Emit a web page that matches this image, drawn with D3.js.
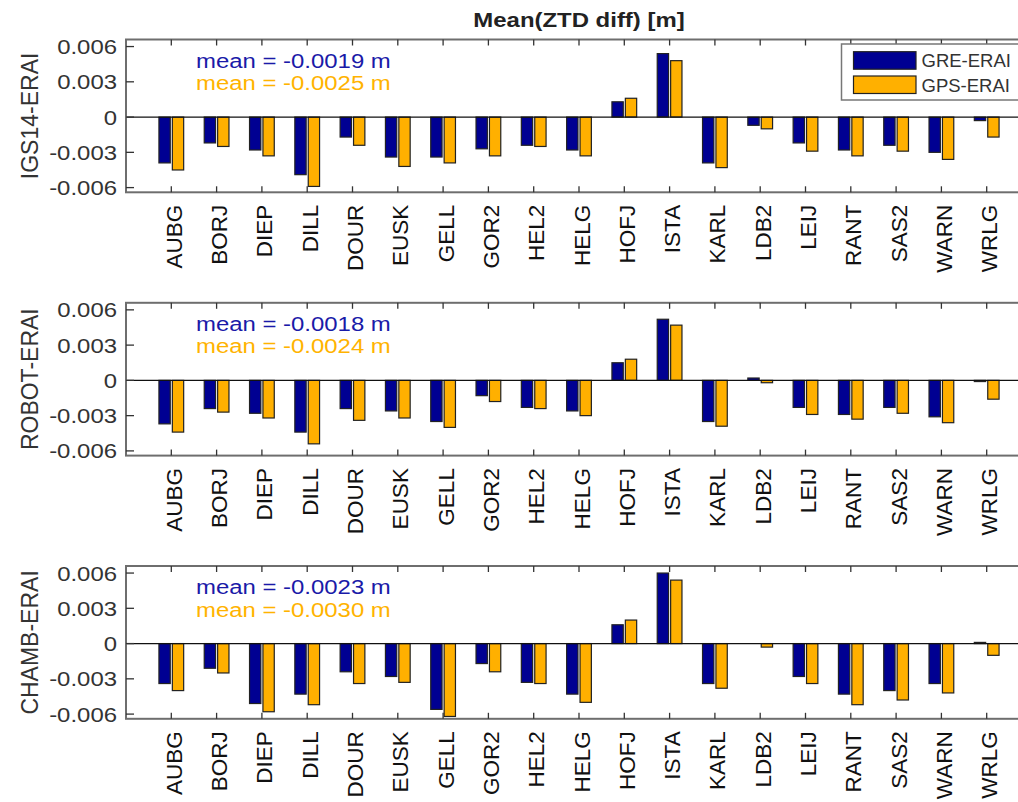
<!DOCTYPE html>
<html><head><meta charset="utf-8">
<script src="https://cdn.jsdelivr.net/npm/d3@7"></script>
<style>body{margin:0;background:#fff}svg{display:block}text{font-family:"Liberation Sans",Arial,sans-serif}</style>
</head><body>
<svg id="c" width="1018" height="802"></svg>
<script>
const stations = ["AUBG","BORJ","DIEP","DILL","DOUR","EUSK","GELL","GOR2","HEL2","HELG","HOFJ","ISTA","KARL","LDB2","LEIJ","RANT","SAS2","WARN","WRLG"];
const seriesNames = ["GRE-ERAI","GPS-ERAI"];
const panelNames = ["IGS14-ERAI","ROBOT-ERAI","CHAMB-ERAI"];
const igsGRE   = [-0.0039,-0.0022,-0.0028,-0.0049,-0.0017,-0.0034,-0.0034,-0.0027,-0.0024,-0.0028,0.0013,0.0054,-0.0039,-0.0007,-0.0022,-0.0028,-0.0024,-0.0030,-0.0003];
const igsGPS   = [-0.0045,-0.0025,-0.0033,-0.0059,-0.0024,-0.0042,-0.0039,-0.0033,-0.0025,-0.0033,0.0016,0.0048,-0.0043,-0.0010,-0.0029,-0.0033,-0.0029,-0.0036,-0.0017];
const robotGRE = [-0.0037,-0.0024,-0.0028,-0.0044,-0.0024,-0.0026,-0.0035,-0.0013,-0.0023,-0.0026,0.0015,0.0052,-0.0035,0.0002,-0.0023,-0.0029,-0.0023,-0.0031,-0.0001];
const robotGPS = [-0.0044,-0.0027,-0.0032,-0.0054,-0.0034,-0.0032,-0.0040,-0.0018,-0.0024,-0.0030,0.0018,0.0047,-0.0039,-0.0002,-0.0029,-0.0033,-0.0028,-0.0036,-0.0016];
const chambGRE = [-0.0034,-0.0021,-0.0051,-0.0043,-0.0024,-0.0028,-0.0056,-0.0017,-0.0033,-0.0043,0.0016,0.0060,-0.0034,0.0000,-0.0028,-0.0043,-0.0040,-0.0034,0.0001];
const chambGPS = [-0.0040,-0.0025,-0.0058,-0.0052,-0.0034,-0.0033,-0.0062,-0.0024,-0.0034,-0.0050,0.0020,0.0054,-0.0038,-0.0003,-0.0034,-0.0052,-0.0048,-0.0042,-0.0010];
const meanGRE = ["-0.0019","-0.0018","-0.0023"];
const meanGPS = ["-0.0025","-0.0024","-0.0030"];
const yTicks = [-0.006,-0.003,0,0.003,0.006];
const yTickLabels = ["-0.006","-0.003","0","0.003","0.006"];
const titleText = "Mean(ZTD diff) [m]";

const panels = [[igsGRE,igsGPS],[robotGRE,robotGPS],[chambGRE,chambGPS]];
const colors = ["#000092","#ffb000"];
const textColors = ["#1a1aa8","#ffb300"];

const svg = d3.select("#c");
const left = 126, right = 1032, H = 152.8;
const tops = [39.5, 302.8, 566];
const x = d3.scaleLinear().domain([0, stations.length + 1]).range([left, right]);
const bw = x(0.25) - x(0);
const offs = [-0.148, 0.148];
const SX = 1.14;

svg.append("text").attr("transform", `translate(${(left+right)/2},27) scale(${SX},1)`)
  .attr("text-anchor","middle").attr("font-weight","bold").attr("font-size",21).attr("fill","#222").text(titleText);

panels.forEach((series, p) => {
  const top = tops[p];
  const y = d3.scaleLinear().domain([-0.0064, 0.0066]).range([top + H, top]);
  const g = svg.append("g");
  series.forEach((vals, s) => {
    g.selectAll(null).data(vals).enter().append("rect")
      .attr("x", (d, i) => x(i + 1 + offs[s]) - bw / 2)
      .attr("width", bw)
      .attr("y", d => y(Math.max(0, d)))
      .attr("height", d => Math.abs(y(d) - y(0)))
      .attr("fill", colors[s]).attr("stroke", "#222").attr("stroke-width", 1.2);
  });
  g.append("line").attr("x1", left).attr("x2", right).attr("y1", y(0)).attr("y2", y(0))
    .attr("stroke", "#111").attr("stroke-width", 1.2);
  g.append("rect").attr("x", left).attr("y", top).attr("width", right - left).attr("height", H)
    .attr("fill", "none").attr("stroke", "#6e6e6e").attr("stroke-width", 2);
  yTicks.forEach((t, k) => {
    g.append("line").attr("x1", left).attr("x2", left + 8).attr("y1", y(t)).attr("y2", y(t)).attr("stroke", "#333").attr("stroke-width", 1.3);
    g.append("text").attr("transform", `translate(${left - 9},${y(t) + 7.5}) scale(${SX},1)`)
      .attr("text-anchor", "end").attr("font-size", 21).attr("fill", "#333").text(yTickLabels[k]);
  });
  stations.forEach((st, i) => {
    const xx = x(i + 1);
    g.append("line").attr("x1", xx).attr("x2", xx).attr("y1", top).attr("y2", top + 6).attr("stroke", "#333").attr("stroke-width", 1.3);
    g.append("line").attr("x1", xx).attr("x2", xx).attr("y1", top + H).attr("y2", top + H - 6).attr("stroke", "#333").attr("stroke-width", 1.3);
    g.append("text").attr("transform", `translate(${xx + 10.5},${top + H + 12.5}) rotate(-90)`)
      .attr("text-anchor", "end").attr("font-size", 22.5).attr("fill", "#111").text(st);
  });
  g.append("text").attr("transform", `translate(38,${top + H / 2}) rotate(-90)`)
    .attr("text-anchor", "middle").attr("font-size", 23).attr("fill", "#333").text(panelNames[p]);
  g.append("text").attr("transform", `translate(196,${top + 28.2}) scale(${SX},1)`)
    .attr("font-size", 21).attr("fill", textColors[0]).text(`mean = ${meanGRE[p]} m`);
  g.append("text").attr("transform", `translate(196,${top + 50.5}) scale(${SX},1)`)
    .attr("font-size", 21).attr("fill", textColors[1]).text(`mean = ${meanGPS[p]} m`);
  if (p === 0) {
    const lg = g.append("g");
    lg.append("rect").attr("x", 841.5).attr("y", 44).attr("width", 200).attr("height", 56)
      .attr("fill", "#fff").attr("stroke", "#777").attr("stroke-width", 1.5);
    seriesNames.forEach((nm, s) => {
      const yy = 51.7 + s * 24.3;
      lg.append("rect").attr("x", 853.5).attr("y", yy).attr("width", 62.5).attr("height", 17.5)
        .attr("fill", colors[s]).attr("stroke", "#222").attr("stroke-width", 1.2);
      lg.append("text").attr("transform", `translate(921.5,${yy + 15.5})`)
        .attr("font-size", 18.5).attr("fill", "#333").text(nm);
    });
  }
});
</script>
</body></html>
